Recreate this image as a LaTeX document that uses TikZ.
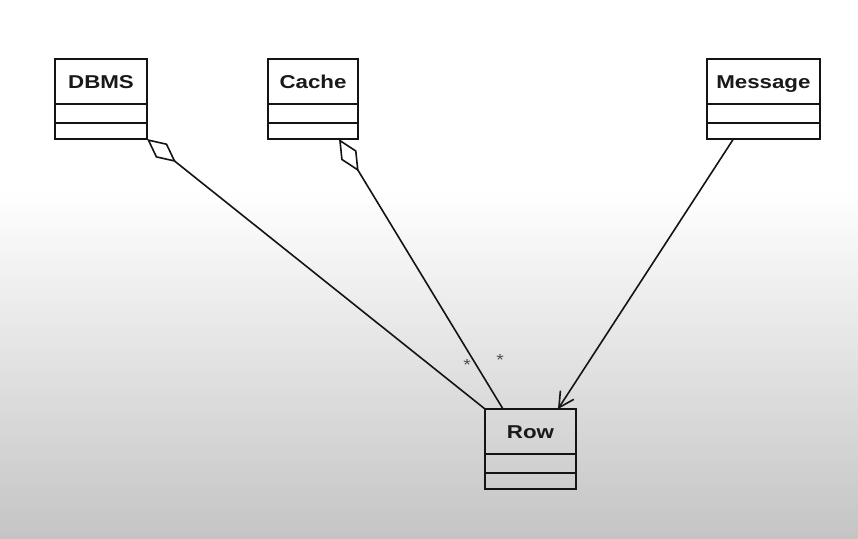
\documentclass[tikz,border=0pt]{standalone}
\usepackage{fontspec}
\usepackage{tikz}
\usetikzlibrary{arrows.meta}
\newfontfamily\umlfont[FakeStretch=1.2]{Liberation Sans}

\tikzset{
  umlline/.style={line width=1.6pt, draw=black!92},
  classname/.style={umlline, draw, rectangle, minimum height=45pt,
    inner sep=0pt, outer sep=0pt, text height=13.3pt, text depth=0pt,
    font=\umlfont\bfseries\fontsize{18.6}{20}\selectfont, text=black!90},
  mult/.style={inner sep=0pt, text=black!70, font=\umlfont\fontsize{16}{16}\selectfont}
}

% lower compartments of a class box
\newcommand{\classparts}[1]{%
  \draw[umlline] (#1.south west) rectangle ([yshift=-35pt]#1.south east);
  \draw[umlline] ([yshift=-19pt]#1.south west) -- ([yshift=-19pt]#1.south east);
}

\begin{document}
\begin{tikzpicture}[x=1pt, y=-1pt]
                \useasboundingbox (0,0) rectangle (858,538);
                \fill[white] (0,0) rectangle (858,190);
                \shade[top color=white, bottom color=black!23] (0,190) rectangle (858,538);

                \node[classname, minimum width=92pt] (dbms) at (101,81.5) {DBMS};
                \node[classname, minimum width=90pt] (cache) at (313,81.5) {Cache};
                \node[classname, minimum width=113pt] (msg) at (763.4,81.5) {Message};
                \node[classname, minimum width=91pt] (row) at (530.5,431.5) {Row};
                \classparts{dbms}
                \classparts{cache}
                \classparts{msg}
                \classparts{row}

                \coordinate (dbms-d) at ([yshift=-35pt]dbms.south east);
                \coordinate (cache-d) at ([xshift=26pt,yshift=-35pt]cache.south);
                \coordinate (msg-e) at ([xshift=-30pt,yshift=-35pt]msg.south);

                \draw[umlline, {Diamond[open,length=37pt,width=18pt]}-] (dbms-d) -- (row.north west);
                \draw[umlline, {Diamond[open,length=38pt,width=18pt]}-] (cache-d) -- ([xshift=18pt]row.north west);
                \draw[umlline, -{Straight Barb[length=15pt,width=16pt]}] (msg-e) -- ([xshift=27.5pt]row.north);

                \node[mult] (m1) at (467,365) {*};
                \node[mult] (m2) at (500,360) {*};
            \end{tikzpicture}
\end{document}
